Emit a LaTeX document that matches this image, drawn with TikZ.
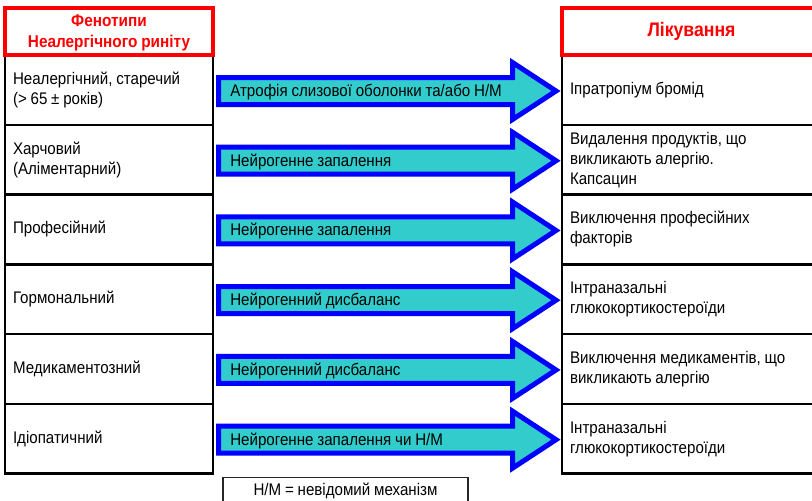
\documentclass[tikz,border=0pt]{standalone}
\usepackage{fontspec}
\setmainfont{Liberation Sans}[FakeStretch=0.9,WordSpace=0.9]
\usetikzlibrary{positioning,calc}

\definecolor{hdred}{RGB}{255,0,0}
\definecolor{arrblue}{RGB}{0,0,255}
\definecolor{arrfill}{RGB}{51,204,204}

\tikzset{
  rowbox/.style={draw=black,line width=1.8pt,outer sep=0pt,inner xsep=6pt,inner ysep=2pt,
    minimum height=52.3pt,align=flush left,font=\fontsize{12.6}{15}\selectfont},
  phbox/.style={rowbox,text width=144pt},
  trbox/.style={rowbox,text width=182.25pt},
  headbox/.style={draw=hdred,line width=2.6pt,outer sep=0pt,inner sep=0pt,minimum height=35.25pt,
    align=center,text=hdred,font=\bfseries\fontsize{12.8}{15.8}\selectfont},
  bigarrow/.style={draw=arrblue,fill=arrfill,line width=3.75pt},
  mechlabel/.style={anchor=west,inner sep=0pt,font=\fontsize{12.6}{15}\selectfont},
}

% block arrow from a phenotype box to its treatment box, label on the shaft
\newcommand{\mecharrow}[4]{%
  \draw[bigarrow] ($(#1.east)+(5.5,-12.5)$) -- ($(#2.west)+(-49.5,-12.5)$) -- ($(#2.west)+(-49.5,-27.5)$)
    -- ($(#2.west)+(-6,1)$) -- ($(#2.west)+(-49.5,29.5)$) -- ($(#2.west)+(-49.5,14.5)$)
    -- ($(#1.east)+(5.5,14.5)$) -- cycle ;
  \node[mechlabel] (#3) at ($(#1.east)+(17,2)$) {#4};
}

\begin{document}
\begin{tikzpicture}[x=0.75pt,y=0.75pt,yscale=-1,xscale=1]
\useasboundingbox (0,0) rectangle (812,500);

% Phenotypes (left column)
\node[phbox] (ph1) at (109,90) {Неалергічний, старечий\\(> 65 ± років)};
\node[phbox,below=0pt of ph1] (ph2) {Харчовий\\(Аліментарний)};
\node[phbox,below=0pt of ph2] (ph3) {Професійний};
\node[phbox,below=0pt of ph3] (ph4) {Гормональний};
\node[phbox,below=0pt of ph4] (ph5) {Медикаментозний};
\node[phbox,below=0pt of ph5] (ph6) {Ідіопатичний};

% Treatment (right column)
\node[trbox] (tr1) at (691.5,90) {Іпратропіум бромід};
\node[trbox,below=0pt of tr1] (tr2) {Видалення продуктів, що\\викликають алергію.\\Капсацин};
\node[trbox,below=0pt of tr2] (tr3) {Виключення професійних\\факторів};
\node[trbox,below=0pt of tr3] (tr4) {Інтраназальні\\глюкокортикостероїди};
\node[trbox,below=0pt of tr4] (tr5) {Виключення медикаментів, що\\викликають алергію};
\node[trbox,below=0pt of tr5] (tr6) {Інтраназальні\\глюкокортикостероїди};

% Column headers
\node[headbox,minimum width=156pt,above=0pt of ph1,text depth=1.5pt] (phhead) {Фенотипи\\Неалергічного риніту};
\node[headbox,minimum width=194.25pt,above=0pt of tr1,font=\bfseries\fontsize{14.7}{17}\selectfont] (trhead) {Лікування};

% Mechanisms
\mecharrow{ph1}{tr1}{mech1}{Атрофія слизової оболонки та/або Н/М}
\mecharrow{ph2}{tr2}{mech2}{Нейрогенне запалення}
\mecharrow{ph3}{tr3}{mech3}{Нейрогенне запалення}
\mecharrow{ph4}{tr4}{mech4}{Нейрогенний дисбаланс}
\mecharrow{ph5}{tr5}{mech5}{Нейрогенний дисбаланс}
\mecharrow{ph6}{tr6}{mech6}{Нейрогенне запалення чи Н/М}

% Footnote
\node[draw=black!85,line width=0.8pt,minimum width=183.75pt,minimum height=19pt,inner sep=0pt,
  font=\fontsize{12.6}{15}\selectfont] (note) at (345.5,490.5) {Н/М = невідомий механізм};

\end{tikzpicture}
\end{document}
